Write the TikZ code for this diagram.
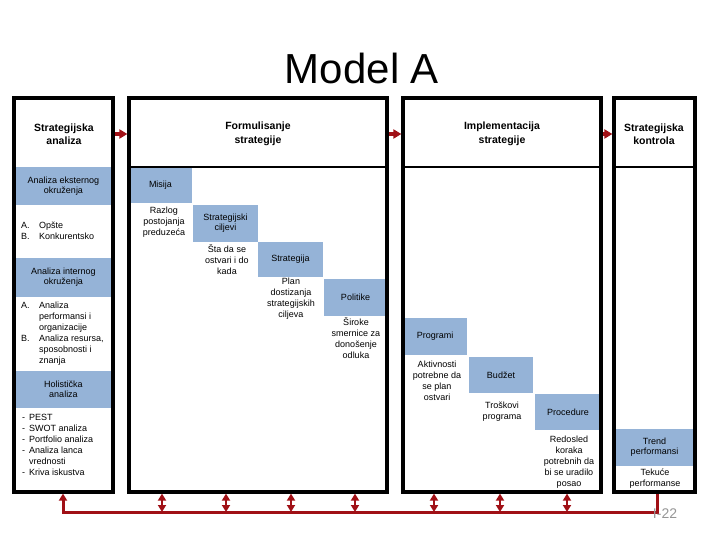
\documentclass[tikz,border=0pt]{standalone}
\usepackage{fontspec}
\setmainfont{Liberation Sans}
\usetikzlibrary{arrows.meta}

\definecolor{bandblue}{RGB}{149,179,215}
\definecolor{flowred}{RGB}{160,16,22}
\definecolor{pagegray}{RGB}{150,150,150}

\tikzset{
  colbox/.style={draw=black, line width=3.2pt, inner sep=0pt},
  band/.style={fill=bandblue, inner sep=0pt, align=center,
    font=\fontsize{9}{10}\selectfont},
  head/.style={align=center, inner sep=0pt,
    font=\bfseries\fontsize{10.5}{13.5}\selectfont},
  txt/.style={align=center, inner sep=0pt, font=\fontsize{9}{11}\selectfont},
  headline/.style={line width=2.3pt},
  flow/.style={flowred, line width=3.5pt, -{Triangle[length=8pt,width=9pt]}},
  bus/.style={flowred, line width=3pt},
  link/.style={flowred, line width=2.6pt,
    {Triangle[length=7pt,width=8pt]}-{Triangle[length=7pt,width=8pt]}}
}

\begin{document}
\begin{tikzpicture}[x=1pt, y=-1pt]
\useasboundingbox (0,0) rectangle (720,540);

\node[inner sep=0pt, font=\fontsize{42}{46}\selectfont] (title) at (362,68) {Model A};

%Strategijska analiza
\node[band, minimum width=99pt, minimum height=38pt] (ext) at (63.5,186) {Analiza eksternog\\okruženja};
\node[txt, anchor=west] (extlist) at (21,232) {\begin{tabular}{@{}p{18pt}@{}l@{}}
A. & Opšte\\ B. & Konkurentsko\end{tabular}};
\node[band, minimum width=99pt, minimum height=39pt] (int) at (63.5,277.5) {Analiza internog\\okruženja};
\node[txt, anchor=west] (intlist) at (21,334) {\begin{tabular}{@{}p{18pt}@{}l@{}}
A. & Analiza\\ & performansi i\\ & organizacije\\
B. & Analiza resursa,\\ & sposobnosti i\\ & znanja\end{tabular}};
\node[band, minimum width=99pt, minimum height=37pt] (hol) at (63.5,389.5) {Holistička\\analiza};
\node[txt, anchor=west] (hollist) at (22,446) {\begin{tabular}{@{}p{7pt}@{}l@{}}
- & PEST\\ - & SWOT analiza\\ - & Portfolio analiza\\
- & Analiza lanca\\ & vrednosti\\ - & Kriva iskustva\end{tabular}};

%Formulisanje strategije
\node[band, minimum width=63pt, minimum height=36pt] (misija) at (160.5,185) {Misija};
\node[txt] (misijatxt) at (164,222) {Razlog\\postojanja\\preduzeća};
\node[band, minimum width=65pt, minimum height=37pt] (ciljevi) at (225.5,223.5) {Strategijski\\ciljevi};
\node[txt] (ciljevitxt) at (227,259.5) {Šta da se\\ostvari i do\\kada};
\node[band, minimum width=65pt, minimum height=35pt] (strat) at (290.5,259.5) {Strategija};
\node[txt] (strattxt) at (291,299) {Plan\\dostizanja\\strategijskih\\ciljeva};
\node[band, minimum width=63pt, minimum height=37pt] (polit) at (355.5,297.5) {Politike};
\node[txt] (polittxt) at (356,338.5) {Široke\\smernice za\\donošenje\\odluka};

%Implementacija strategije
\node[band, minimum width=64pt, minimum height=37pt] (prog) at (435,336.5) {Programi};
\node[txt] (progtxt) at (437,380.5) {Aktivnosti\\potrebne da\\se plan\\ostvari};
\node[band, minimum width=64pt, minimum height=36pt] (budzet) at (501,375) {Budžet};
\node[txt] (budzettxt) at (502,412) {Troškovi\\programa};
\node[band, minimum width=66pt, minimum height=36pt] (proc) at (568,412) {Procedure};
\node[txt] (proctxt) at (569,462.5) {Redosled\\koraka\\potrebnih da\\bi se uradilo\\posao};

%Strategijska kontrola
\node[band, minimum width=81pt, minimum height=37pt] (trend) at (654.5,447.5) {Trend\\performansi};
\node[txt] (trendtxt) at (655,479) {Tekuće\\performanse};

%columns
\node[colbox, minimum width=99pt, minimum height=394pt] (col1) at (63.5,295) {};
\node[colbox, minimum width=258pt, minimum height=394pt] (col2) at (258,295) {};
\node[colbox, minimum width=198pt, minimum height=394pt] (col3) at (502,295) {};
\node[colbox, minimum width=81pt, minimum height=394pt] (col4) at (654.5,295) {};

\node[head] (head1) at (64,134) {Strategijska\\analiza};
\node[head] (head2) at (258,134) {Formulisanje\\strategije};
\node[head] (head3) at (502,134) {Implementacija\\strategije};
\node[head] (head4) at (654,134) {Strategijska\\kontrola};

\coordinate (hl) at (0,167);
\draw[headline] (col2.west |- hl) -- (col2.east |- hl);
\draw[headline] (col3.west |- hl) -- (col3.east |- hl);
\draw[headline] (col4.west |- hl) -- (col4.east |- hl);

%flow
\coordinate (top) at (0,134);
\draw[flow] (col1.east |- top) -- (col2.west |- top);
\draw[flow] (col2.east |- top) -- (col3.west |- top);
\draw[flow] (col3.east |- top) -- (col4.west |- top);

%feedback
\coordinate (busL) at (63,512);
\coordinate (busR) at (657,512);
\draw[bus, {Triangle[length=7pt,width=8pt]}-] (busL |- col1.south) -- (busL) -- (busR) -- (busR |- col4.south);
\foreach \x [count=\i] in {162,226,291,355} {
  \coordinate (f\i) at (\x,512);
  \draw[link] (f\i) -- (f\i |- col2.south);
}
\foreach \x [count=\i] in {434,500,567} {
  \coordinate (g\i) at (\x,512);
  \draw[link] (g\i) -- (g\i |- col3.south);
}

\node[inner sep=0pt, text=pagegray, font=\fontsize{14}{16}\selectfont] (page) at (665,514) {I-22};
\end{tikzpicture}
\end{document}
